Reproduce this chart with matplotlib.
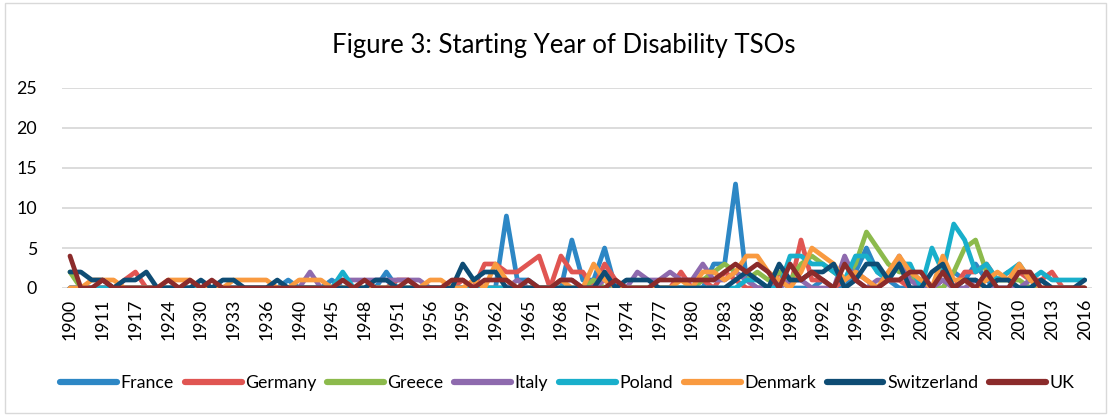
import numpy as np
import matplotlib
matplotlib.use("Agg")
import matplotlib.pyplot as plt
from matplotlib.patches import Rectangle

plt.rcParams["font.family"] = ["Lato", "DejaVu Sans"]

# ─────────────────────────────────────────────
# Data (category axis: only the years that occur)
# ─────────────────────────────────────────────
YEARS = [1900, 1905, 1908, 1911, 1913, 1915, 1917, 1920, 1922, 1924, 1926, 1928,
         1930, 1931, 1932, 1933, 1934, 1935, 1936, 1937, 1938, 1940, 1942, 1943,
         1945, 1946, 1947, 1948, 1949, 1950, 1951, 1953, 1954, 1956, 1957, 1958] \
        + list(range(1959, 2017))

FRANCE = [0, 0, 0, 0, 0, 0, 0, 0, 0, 0, 0, 0,
          0, 0, 0, 0, 0, 0, 0, 0, 1, 0, 0, 0,
          1, 0, 0, 0, 0, 2, 0, 0, 0, 0, 0, 0,
          0, 0, 0, 0, 9, 1, 1, 0, 0, 0, 6, 1,
          1, 5, 0, 0, 0, 0, 0, 0, 0, 0, 0, 3,
          3, 13, 1, 0, 0, 1, 0, 0, 0, 1, 0, 0,
          2, 5, 2, 1, 0, 0, 0, 0, 0, 2, 1, 3,
          1, 0, 0, 0, 0, 1, 0, 0, 0, 0]
GERMANY = [0, 0, 0, 0, 0, 1, 2, 0, 0, 0, 0, 0,
           0, 0, 0, 0, 0, 0, 0, 0, 0, 0, 0, 0,
           0, 0, 0, 0, 0, 0, 1, 1, 0, 0, 0, 0,
           1, 0, 3, 3, 2, 2, 3, 4, 0, 4, 2, 2,
           0, 3, 1, 0, 0, 0, 0, 0, 2, 0, 1, 0,
           2, 1, 0, 0, 0, 2, 0, 6, 1, 1, 0, 1,
           2, 1, 0, 1, 1, 0, 0, 0, 1, 0, 2, 2,
           3, 1, 2, 2, 1, 1, 2, 0, 0, 0]
GREECE = [2, 0, 0, 0, 0, 0, 0, 0, 0, 0, 0, 0,
          0, 0, 0, 0, 0, 0, 0, 0, 0, 0, 0, 0,
          0, 0, 0, 0, 0, 0, 0, 0, 0, 0, 0, 0,
          0, 0, 0, 0, 0, 0, 0, 0, 0, 0, 0, 0,
          1, 0, 0, 0, 0, 0, 0, 0, 0, 0, 1, 2,
          3, 2, 1, 2, 1, 2, 1, 3, 4, 3, 2, 1,
          3, 7, 5, 3, 2, 2, 0, 0, 0, 2, 5, 6,
          2, 1, 1, 1, 0, 0, 0, 0, 0, 0]
ITALY = [0, 0, 0, 0, 0, 0, 0, 0, 0, 0, 0, 0,
         0, 0, 0, 0, 0, 0, 0, 0, 0, 0, 2, 0,
         0, 1, 1, 1, 1, 1, 1, 1, 1, 0, 0, 0,
         0, 0, 0, 0, 0, 1, 0, 0, 0, 1, 1, 0,
         0, 1, 0, 0, 2, 1, 1, 2, 1, 1, 3, 1,
         1, 2, 1, 0, 0, 0, 1, 1, 0, 0, 0, 4,
         1, 0, 1, 1, 4, 1, 0, 0, 1, 0, 0, 1,
         0, 0, 0, 0, 1, 0, 0, 0, 0, 0]
POLAND = [0, 0, 0, 0, 0, 0, 0, 0, 0, 0, 0, 0,
          0, 0, 0, 0, 0, 0, 0, 0, 0, 0, 0, 0,
          0, 2, 0, 0, 0, 0, 0, 0, 0, 0, 0, 0,
          0, 0, 0, 0, 0, 0, 0, 0, 0, 0, 0, 0,
          0, 0, 0, 0, 0, 0, 0, 0, 0, 0, 0, 0,
          0, 0, 1, 1, 0, 0, 4, 4, 3, 3, 2, 1,
          4, 4, 2, 1, 3, 3, 0, 5, 2, 8, 6, 2,
          3, 1, 2, 3, 1, 2, 1, 1, 1, 1]
DENMARK = [0, 0, 1, 1, 1, 0, 0, 0, 0, 1, 1, 1,
           0, 0, 0, 1, 1, 1, 1, 0, 0, 1, 1, 1,
           0, 0, 0, 0, 0, 0, 0, 0, 0, 1, 1, 0,
           0, 1, 0, 3, 1, 0, 0, 0, 0, 1, 0, 0,
           3, 1, 0, 0, 0, 0, 0, 0, 1, 0, 2, 2,
           1, 2, 4, 4, 2, 1, 0, 2, 5, 4, 3, 1,
           2, 1, 0, 2, 4, 2, 1, 0, 4, 1, 1, 0,
           1, 2, 1, 3, 1, 0, 0, 0, 0, 0]
SWITZERLAND = [2, 2, 1, 1, 0, 1, 1, 2, 0, 0, 0, 0,
               1, 0, 1, 1, 0, 0, 0, 1, 0, 0, 0, 0,
               0, 0, 0, 0, 1, 1, 0, 0, 0, 0, 0, 0,
               3, 1, 2, 2, 0, 0, 0, 0, 0, 0, 0, 0,
               0, 2, 0, 1, 1, 1, 0, 0, 0, 0, 0, 0,
               0, 1, 2, 1, 0, 3, 1, 1, 2, 2, 3, 0,
               1, 3, 3, 1, 3, 0, 0, 2, 3, 0, 1, 1,
               0, 1, 1, 0, 0, 1, 0, 0, 0, 1]
UK = [4, 0, 0, 1, 0, 0, 0, 0, 0, 1, 0, 1,
      0, 1, 0, 0, 0, 0, 0, 0, 0, 0, 0, 0,
      0, 1, 0, 1, 0, 0, 0, 1, 0, 0, 0, 1,
      1, 0, 1, 1, 1, 0, 1, 0, 0, 1, 1, 0,
      0, 0, 1, 0, 0, 0, 1, 1, 1, 1, 1, 1,
      2, 3, 2, 3, 2, 0, 3, 1, 2, 1, 0, 3,
      1, 0, 0, 1, 1, 2, 2, 0, 2, 0, 1, 0,
      2, 0, 0, 2, 2, 0, 0, 0, 0, 0]

SERIES = [
    ("France",      FRANCE,      "#2D87C5"),
    ("Germany",     GERMANY,     "#E05552"),
    ("Greece",      GREECE,      "#8CBA4C"),
    ("Italy",       ITALY,       "#8E6AAE"),
    ("Poland",      POLAND,      "#19AFCB"),
    ("Denmark",     DENMARK,     "#F99A40"),
    ("Switzerland", SWITZERLAND, "#0E4C74"),
    ("UK",          UK,          "#8B2B2B"),
]

# ─────────────────────────────────────────────
# Figure
# ─────────────────────────────────────────────
W, H = 1110, 417
fig = plt.figure(figsize=(W / 100, H / 100), dpi=100)
fig.patches.append(Rectangle((5 / W, 4 / H), 1101 / W, 410 / H,
                             transform=fig.transFigure, fill=False,
                             edgecolor="#D9D9D9", linewidth=1))

ax = fig.add_axes([62 / W, 1 - 288 / H, (1092 - 62) / W, 200 / H])
x = np.arange(len(YEARS))

for name, vals, col in SERIES:
    ax.plot(x, vals, color=col, linewidth=3.4, label=name,
            solid_joinstyle="round", solid_capstyle="round", zorder=3)

ax.set_xlim(-0.73, len(YEARS) - 1 + 0.67)
ax.set_ylim(0, 25)
ax.set_yticks(range(0, 26, 5))
ax.yaxis.grid(True, color="#D9D9D9", linewidth=1.3)
ax.set_axisbelow(True)
for s in ax.spines.values():
    s.set_visible(False)

ax.set_xticks(x[::3])
ax.set_xticklabels([str(y) for y in YEARS[::3]], rotation=90, fontsize=12.8)
ax.tick_params(axis="both", length=0, colors="#000000")
ax.tick_params(axis="x", pad=8)
ax.tick_params(axis="y", pad=18, labelsize=12.8)

fig.text(0.508, 1 - 45 / H, "Figure 3: Starting Year of Disability TSOs",
         ha="center", va="center", fontsize=18.5)

leg = fig.legend(loc="center", bbox_to_anchor=(0.511, 1 - 383 / H), ncol=8,
                 frameon=False, fontsize=12.8, handlelength=3.2,
                 handletextpad=0.2, columnspacing=0.6)
for line in leg.get_lines():
    line.set_linewidth(4.5)

plt.savefig("out.png", dpi=100)
plt.close()
